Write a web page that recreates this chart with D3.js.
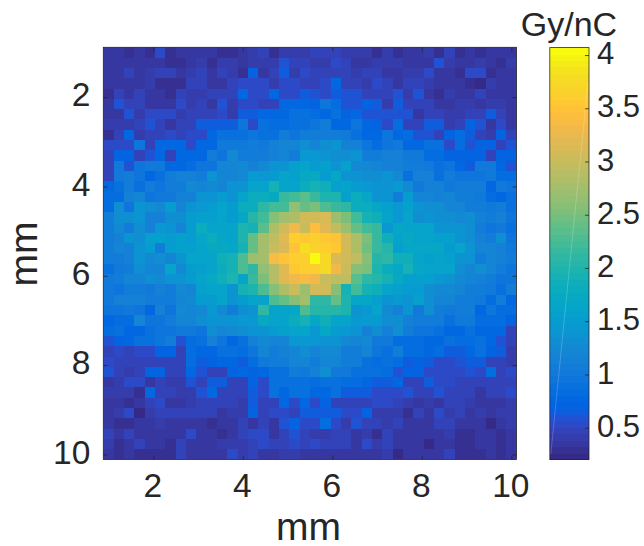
<!DOCTYPE html>
<html><head><meta charset="utf-8">
<script src="https://cdnjs.cloudflare.com/ajax/libs/d3/7.8.5/d3.min.js"></script>
<style>html,body{margin:0;padding:0;background:#fff}svg{display:block}text{font-family:"Liberation Sans",Arial,sans-serif;fill:#262626}</style>
</head><body><svg id="c" width="644" height="546"></svg>
<script>
const xTicks=[2,4,6,8,10];
const yTicks=[2,4,6,8,10];
const cbTicks=[0.5,1,1.5,2,2.5,3,3.5,4];
const cbTickLabels=["0.5","1","1.5","2","2.5","3","3.5","4"];
const xLabel="mm",yLabel="mm",cbTitle="Gy/nC";
const parula=[[.2081,.1663,.5292],[.2116,.1898,.5777],[.2123,.2138,.627],[.2081,.2386,.6771],[.1959,.2645,.7279],[.1707,.2919,.7792],[.1253,.3242,.8303],[.0591,.3598,.8683],[.0117,.3875,.882],[.006,.4086,.8828],[.0165,.4266,.8786],[.0329,.443,.872],[.0498,.4586,.8641],[.0629,.4737,.8554],[.0723,.4887,.8467],[.0779,.504,.8384],[.0793,.52,.8312],[.0749,.5375,.8263],[.0641,.557,.824],[.0488,.5772,.8228],[.0343,.5966,.8199],[.0265,.6137,.8135],[.0239,.6287,.8038],[.0231,.6418,.7913],[.0228,.6535,.7768],[.0267,.6642,.7607],[.0384,.6743,.7436],[.059,.6838,.7254],[.0843,.6928,.7062],[.1133,.7015,.6859],[.1453,.7098,.6646],[.1801,.7177,.6424],[.2178,.725,.6193],[.2586,.7317,.5954],[.3022,.7376,.5712],[.3482,.7424,.5473],[.3953,.7459,.5244],[.442,.7481,.5033],[.4871,.7491,.484],[.53,.7491,.4661],[.5709,.7485,.4494],[.6099,.7473,.4337],[.6473,.7456,.4188],[.6834,.7435,.4044],[.7184,.7411,.3905],[.7525,.7384,.3768],[.7858,.7356,.3633],[.8185,.7327,.3498],[.8507,.7299,.336],[.8824,.7274,.3217],[.9139,.7258,.3063],[.945,.7261,.2886],[.9739,.7314,.2666],[.9938,.7455,.2403],[.999,.7653,.2164],[.9955,.7861,.1967],[.988,.8066,.1794],[.9789,.8271,.1633],[.9697,.8481,.1475],[.9626,.8705,.1309],[.9589,.8949,.1132],[.9598,.9218,.0948],[.9661,.9514,.0755],[.9763,.9831,.0538]];
const doseLeft=[
[.38,.38,.28,.38,.28,.55,.28,.38,.38,.38,.38,.32,.32,.38,.42,.5,.3,.4,.4,.42],
[.35,.35,.35,.35,.35,.35,.28,.28,.33,.42,.3,.42,.42,.38,.4,.4,.42,.58,.45,.5],
[.35,.35,.5,.35,.42,.45,.45,.35,.42,.45,.35,.45,.4,.3,.72,.38,.48,.68,.42,.55],
[.35,.35,.35,.35,.42,.32,.32,.32,.45,.45,.35,.38,.45,.55,.55,.55,.4,.55,.55,.45],
[.32,.5,.38,.48,.35,.35,.3,.45,.42,.42,.45,.5,.45,.75,.55,.55,.75,.55,.55,.65],
[.35,.6,.48,.48,.35,.35,.35,.55,.42,.5,.38,.6,.4,.55,.55,.5,.5,.8,.8,.8],
[.35,.35,.6,.42,.55,.55,.55,.42,.48,.48,.48,.55,.4,.65,.65,.75,.75,.8,.9,.9],
[.4,.4,.4,.5,.62,.48,.38,.45,.5,.65,.65,.65,.65,.95,.55,.9,.85,.85,.9,.9],
[.3,.45,.75,.42,.5,.5,.55,.45,.52,.52,.75,.9,.9,.9,.95,.9,.9,1.05,.95,1.05],
[.55,.55,.55,.95,.5,.8,.8,.8,.55,.75,.75,1,1,1,1.05,1,1.15,1.2,1.2,1.3],
[.5,.7,.7,.5,.6,.8,.5,.75,.75,.75,1.1,.95,1.25,1.1,1.1,1.1,1.15,1.2,1.05,1.45],
[.5,1,.6,.95,1,1,.8,.8,.85,.95,.95,1.2,1.2,1.25,1.15,1.25,1.4,1.4,1.55,1.6],
[.5,1,1.05,.95,.75,.9,1.1,1.15,1.15,1.1,1.35,1.2,1.2,1.25,1.5,1.45,1.5,1.6,1.55,1.75],
[.75,.9,1.05,.9,1.05,.95,1.05,1.1,1.25,1.2,1.25,1.2,1.35,1.35,1.65,1.65,1.95,1.6,1.65,1.8],
[.85,.85,1.15,1.2,.95,1,1,1.15,1.15,1.4,1.35,1.5,1.4,1.65,1.8,1.8,1.75,2.15,2.2,2.35],
[.85,1.3,.95,1.4,1.3,1.25,1.5,1.2,1.35,1.45,1.5,1.6,1.5,1.8,1.8,2.1,2.25,2.2,2.65,2.4],
[1.1,1.3,1.3,1.35,1.15,1.15,1.3,1.3,1.5,1.55,1.55,1.6,1.5,1.7,2.05,2.25,2.6,2.75,2.85,3.05],
[1.1,1.25,1.05,1.3,1.15,1.45,1.4,1.2,1.5,1.8,1.6,1.65,1.6,2,1.9,2.35,2.85,3.05,3.3,3],
[1.1,1.15,1.4,1.3,1.55,1.55,1.5,1.55,1.5,1.7,1.8,1.7,1.6,2,2.4,2.8,2.95,3.2,3.6,3.55],
[1.1,1.2,1.15,1.4,1.5,1.1,1.5,1.55,1.55,1.65,1.75,1.75,1.7,1.95,2.4,2.8,3,3.15,3.5,3.8],
[1.1,1.1,1.15,1.35,1.25,1.3,1.2,1.35,1.6,1.6,1.65,1.85,1.9,2.3,2.7,2.75,3.4,3.5,3.6,3.6],
[.9,1,1.1,1.3,1.2,1.2,1.6,1.25,1.5,1.55,1.6,1.8,1.9,2.3,2.1,2.65,2.9,3.2,3.55,3.6],
[1,1.05,1.2,1.2,1.3,1.25,1.35,1.35,1.5,1.6,1.75,1.85,2,1.65,2.15,2.5,2.9,3.2,3.3,3.35],
[1,.95,1.05,1.05,1,1.15,1.1,1.25,1.2,1.55,1.6,1.6,1.4,1.9,2,2.3,2.6,2.85,3,2.7],
[1,1.15,1.15,1.15,1.1,1.1,1.1,1.2,1.25,1.5,1.5,1.6,1.4,1.5,1.6,1.6,2.3,2.4,2.6,2.75],
[.95,.95,1,.95,.8,1.15,.95,1.25,1.2,1.25,1.45,1.25,1.1,1.3,1.4,2.1,1.65,1.65,1.7,2.3],
[.8,.85,.85,1.2,.95,.95,1.1,1.2,1.2,1.3,1.35,1.35,1.35,1.45,1.45,1.75,1.6,1.65,1.8,1.95],
[.85,.9,.75,.75,.9,.95,.95,1,1,.95,1.3,1.2,1.25,1.3,1.35,1.4,1.5,1.55,1.65,1.6],
[.6,.7,.75,.9,.9,.95,1.05,.6,.85,.9,1.15,.95,.8,.9,1.15,1.25,1.2,1.2,1.45,1.45],
[.5,.55,.45,.55,.55,.7,.7,.5,.85,.8,.8,.9,.9,.85,.95,1.2,1.1,1.15,1.2,1.3],
[.55,.45,.5,.5,.5,.5,.5,.5,.85,.65,.7,.8,.75,.65,.85,1,1.05,1.05,1.2,1.2],
[.6,.45,.4,.5,.7,.7,.5,.5,.8,.6,.48,.48,.7,.75,.7,.8,.9,.9,1.1,1],
[.35,.42,.55,.55,.38,.5,.42,.42,.6,.45,.65,.65,.5,.5,.7,.55,.9,.9,.9,.9],
[.4,.4,.4,.32,.75,.5,.5,.42,.42,.6,.75,.5,.5,.5,.65,.55,.9,.8,.9,.9],
[.38,.38,.3,.38,.45,.55,.38,.38,.42,.5,.5,.5,.5,.42,.65,.5,.5,.75,.55,.8],
[.33,.4,.55,.25,.4,.5,.5,.5,.45,.45,.45,.38,.42,.42,.7,.45,.55,.55,.45,.65],
[.38,.28,.32,.33,.33,.4,.33,.33,.38,.38,.3,.38,.38,.45,.33,.48,.38,.6,.7,.55],
[.45,.38,.45,.33,.33,.33,.33,.33,.55,.38,.38,.3,.38,.45,.52,.52,.38,.48,.6,.5],
[.4,.3,.38,.5,.38,.38,.3,.48,.36,.36,.36,.42,.42,.4,.48,.55,.45,.45,.55,.45],
[.35,.3,.36,.3,.3,.3,.3,.45,.36,.36,.36,.36,.55,.42,.48,.38,.38,.42,.42,.38]];
const doseRight=[
[.5,.5,.48,.42,.4,.4,.32,.4,.28,.38,.38,.42,.28,.45,.28,.38,.28,.38,.38,.38],
[.42,.42,.55,.45,.38,.38,.4,.42,.42,.33,.33,.33,.58,.42,.33,.38,.42,.35,.28,.42],
[.5,.5,.5,.5,.42,.45,.45,.38,.38,.42,.42,.55,.33,.33,.28,.52,.52,.28,.36,.36],
[.5,.55,.75,.5,.5,.42,.55,.45,.38,.48,.48,.4,.33,.33,.38,.3,.25,.42,.33,.33],
[.6,.55,.65,.6,.6,.5,.5,.5,.6,.42,.6,.38,.32,.42,.38,.38,.45,.38,.33,.33],
[.7,.95,.85,.6,.6,.7,.65,.42,.65,.45,.45,.45,.38,.38,.4,.42,.38,.42,.42,.33],
[.85,.8,.9,.7,.8,.6,.6,.6,.6,.6,.35,.5,.5,.42,.42,.5,.5,.65,.5,.38],
[.95,1.1,.75,.75,.95,.8,.7,.55,.85,.45,.45,.65,.65,.42,.5,.7,.6,.35,.55,.38],
[1.05,1.1,1.1,1,.9,.8,.75,.95,.8,.85,.6,.6,.5,.7,.85,.65,.5,.4,.7,.5],
[1.2,1.3,1.35,1.15,1.15,.95,.85,.95,1,.8,.8,.9,.9,.55,.85,.6,.7,.7,.5,.6],
[1.45,1.35,1.3,1.3,1.35,1.05,1.05,1.15,1.15,1,1,.85,.85,.7,.7,.7,.7,.45,.7,.7],
[1.5,1.55,1.35,1.55,1.25,1.25,1.2,1.15,1.15,1.05,1.05,1,.9,.95,.75,.65,1,1,.75,.6],
[1.75,1.5,1.7,1.4,1.4,1.3,1.3,1.35,1.25,.9,1.15,1.15,.9,1.05,.95,.95,.95,1,.85,.85],
[1.95,1.85,1.55,1.6,1.5,1.45,1.35,1.35,1.45,1.25,1,1.15,1.15,1,1.1,1.1,1.05,.8,1,.95],
[2.15,2,2,1.55,1.8,1.7,1.35,1.4,1.1,1.5,1.2,1.2,1.15,1.2,1.1,1.1,1,.85,.8,.9],
[2.55,2.3,2.15,2.1,1.8,1.8,1.7,1.55,1.45,1.55,1.4,1.3,1.3,1.2,1.2,1.1,1.05,1,1.05,.9],
[3.05,3.15,2.7,2.55,2.2,1.95,1.85,1.6,1.45,1.6,1.3,1.35,1.3,1.3,1.25,1.3,1.15,1.1,1.15,.95],
[3.45,3.2,2.95,2.7,2.4,2.25,2.15,1.45,1.7,1.65,1.6,1.6,1.4,1.35,1.35,1.3,1.1,.95,1,.9],
[3.6,3.55,3.5,3.05,2.85,2.5,2.15,1.85,1.65,1.75,1.65,1.65,1.55,1.55,1.4,1.3,1.15,1.05,1.3,.95],
[3.65,3.6,3.55,3.1,2.85,2.45,2.15,2.05,1.55,1.7,1.7,1.7,1.7,1.5,1.6,1.4,1.2,1.2,1.15,1],
[4.07,3.75,3.15,3.1,2.95,2.6,2.05,2.1,1.85,1.85,1.65,1.55,1.6,1.55,1.35,1.35,1.1,1.2,1.15,1.05],
[3.6,3.75,3.3,3,2.6,2.5,2,1.8,1.7,1.9,1.7,1.6,1.6,1.6,1.3,1.2,1.3,1.2,1.1,.95],
[3.3,3,2.95,2.95,2.35,2.1,2.05,1.9,1.75,1.55,1.55,1.55,1.45,1.35,1.25,1.2,1.15,1.1,.95,.95],
[3.05,3.1,2.6,1.9,2.25,1.9,1.85,1.6,1.55,1.5,1.5,1.3,1.25,1.25,1.2,1.1,1.1,1,.9,1.1],
[2.1,2.1,2.4,2,1.7,1.7,1.55,1.35,1.45,1.35,1.55,1.3,1.2,1.2,1.1,1.05,1,.85,1.05,.75],
[2.05,2.05,2.05,2,1.35,1.45,1.6,1.25,1.15,1.4,1,1.3,1.05,1,1.05,1.05,.8,.95,.85,.85],
[1.7,1.85,1.65,1.65,1.45,1.5,1.5,1.3,1.3,1.15,1.1,1.05,1.05,.9,1,1,.85,.85,.85,.7],
[1.45,1.7,1.5,1.45,1.4,1.15,1.3,1.15,1.3,1.1,.95,.95,.9,.75,.75,.9,.8,.8,.8,.5],
[1.45,1.4,1.4,1.25,1.2,1.25,1,1,.85,.85,.85,.8,.8,.9,.85,.85,.9,.75,.6,.5],
[1.2,1.25,1.25,1.1,1.05,1.2,.95,.9,1.05,.85,.85,.8,.85,.65,.65,.75,.9,.7,.65,.4],
[1.1,1.2,1.2,1.1,1.1,.9,.85,.9,.85,.65,.7,.65,.55,.55,.6,.65,.65,.5,.5,.4],
[1.15,1.3,1,1,.9,.9,.9,.85,.6,.7,.7,.55,.55,.55,.55,.6,.55,.85,.45,.55],
[.85,.9,.9,.85,.85,.8,.65,.65,.8,.5,.5,.65,.55,.55,.5,.5,.45,.45,.45,.45],
[.75,.75,.9,.65,.65,.65,.55,.52,.52,.6,.5,.5,.6,.5,.5,.48,.38,.45,.45,.55],
[.55,.7,.5,.5,.5,.45,.52,.52,.48,.42,.36,.42,.36,.5,.5,.42,.38,.38,.38,.42],
[.65,.65,.65,.55,.55,.7,.42,.42,.42,.3,.45,.38,.55,.42,.48,.33,.4,.33,.4,.4],
[.55,.85,.55,.42,.6,.5,.5,.4,.5,.38,.33,.33,.5,.5,.33,.38,.33,.25,.33,.4],
[.4,.4,.48,.48,.38,.42,.3,.45,.33,.38,.38,.33,.33,.42,.28,.28,.33,.33,.28,.36],
[.55,.45,.48,.48,.38,.55,.42,.45,.38,.33,.36,.25,.33,.36,.28,.28,.36,.36,.28,.36],
[.38,.38,.38,.33,.33,.33,.33,.4,.25,.33,.38,.38,.33,.45,.28,.28,.28,.36,.28,.33]];

const colors=parula.map(c=>d3.rgb(c[0]*255,c[1]*255,c[2]*255).formatHex());
const dark="#262626";
const plot={l:103.3,r:516.5,t:47.3,b:459.6};
const cb={l:549.8,r:589,t:47.6,b:459.6};
const step=9/39;
const x=d3.scaleLinear().domain([1-step/2,10+step/2]).range([plot.l,plot.r]);
const y=d3.scaleLinear().domain([1-step/2,10+step/2]).range([plot.t,plot.b]);
const cols=d3.scaleBand().domain(d3.range(40)).range([plot.l,plot.r]);
const rows=d3.scaleBand().domain(d3.range(40)).range([plot.t,plot.b]);
const colorDomain=[0.2,4.07];
const color=d3.scaleQuantize().domain(colorDomain).range(colors);
const cbY=d3.scaleLinear().domain(colorDomain).range([cb.b,cb.t]);
const svg=d3.select("#c");
const defs=svg.append("defs");
defs.append("filter").attr("id","soft").attr("color-interpolation-filters","sRGB")
 .append("feGaussianBlur").attr("stdDeviation",.45);
defs.append("clipPath").attr("id","pc").append("rect").attr("x",plot.l).attr("y",plot.t).attr("width",plot.r-plot.l).attr("height",plot.b-plot.t);
const cells=[];
doseLeft.forEach((row,r)=>row.concat(doseRight[r]).forEach((v,c)=>cells.push({r,c,v})));
svg.append("g").attr("clip-path","url(#pc)").append("g").attr("filter","url(#soft)").selectAll("rect").data(cells).join("rect")
 .attr("x",d=>cols(d.c)).attr("y",d=>rows(d.r))
 .attr("width",cols.bandwidth()+.5).attr("height",rows.bandwidth()+.5)
 .attr("shape-rendering","crispEdges")
 .attr("fill",d=>color(d.v));
svg.append("g").attr("filter","url(#soft)").selectAll("rect").data(colors).join("rect")
 .attr("x",cb.l).attr("width",cb.r-cb.l)
 .attr("y",(d,i)=>cbY(color.invertExtent(d)[1]))
 .attr("height",(d,i)=>cbY(color.invertExtent(d)[0])-cbY(color.invertExtent(d)[1])+.5)
 .attr("shape-rendering","crispEdges")
 .attr("fill",d=>d);
svg.append("line").attr("x1",cb.l+1).attr("y1",cbY(0.25)).attr("x2",cb.r-1).attr("y2",cbY(3.75))
 .attr("stroke","#fff").attr("stroke-opacity",.25).attr("stroke-width",.8);
function frame(b){svg.append("rect").attr("x",b.l).attr("y",b.t).attr("width",b.r-b.l).attr("height",b.b-b.t)
 .attr("fill","none").attr("stroke",dark).attr("stroke-width",.8);}
frame(plot);frame(cb);
const fs=34;
function styleAxis(g,size){g.select(".domain").remove();g.selectAll("line").attr("stroke",dark).attr("stroke-width",.8);
 g.selectAll("text").style("font-size",size+"px").style("font-family",'"Liberation Sans",Arial,sans-serif').attr("fill",dark);}
svg.append("g").attr("transform",`translate(0,${plot.b})`)
 .call(d3.axisBottom(x).tickValues(xTicks).tickSize(-4).tickPadding(14).tickFormat(d3.format("d"))).call(g=>styleAxis(g,33.5)).call(g=>g.selectAll("text").attr("dx",-1));
svg.append("g").attr("transform",`translate(0,${plot.t})`)
 .call(d3.axisTop(x).tickValues(xTicks).tickSize(-4).tickFormat("")).call(g=>styleAxis(g,fs));
svg.append("g").attr("transform",`translate(${plot.l},0)`)
 .call(d3.axisLeft(y).tickValues(yTicks).tickSize(-4).tickPadding(13).tickFormat(d3.format("d"))).call(g=>styleAxis(g,33.5)).call(g=>g.selectAll("text").attr("dy",".26em"));
svg.append("g").attr("transform",`translate(${plot.r},0)`)
 .call(d3.axisRight(y).tickValues(yTicks).tickSize(-4).tickFormat("")).call(g=>styleAxis(g,fs));
svg.append("g").attr("transform",`translate(${cb.r},0)`)
 .call(d3.axisRight(cbY).tickValues(cbTicks).tickSize(-4).tickPadding(8).tickFormat((d,i)=>cbTickLabels[i])).call(g=>styleAxis(g,31)).call(g=>g.selectAll("text").attr("dy",".28em"));
svg.append("text").attr("x",308.5).attr("y",540).attr("text-anchor","middle").style("font-size","39px").text(xLabel);
svg.append("text").attr("transform",`translate(37,254) rotate(-90)`).attr("text-anchor","middle").style("font-size","39px").text(yLabel);
svg.append("text").attr("x",569).attr("y",36).attr("text-anchor","middle").style("font-size","34px").text(cbTitle);
</script></body></html>
